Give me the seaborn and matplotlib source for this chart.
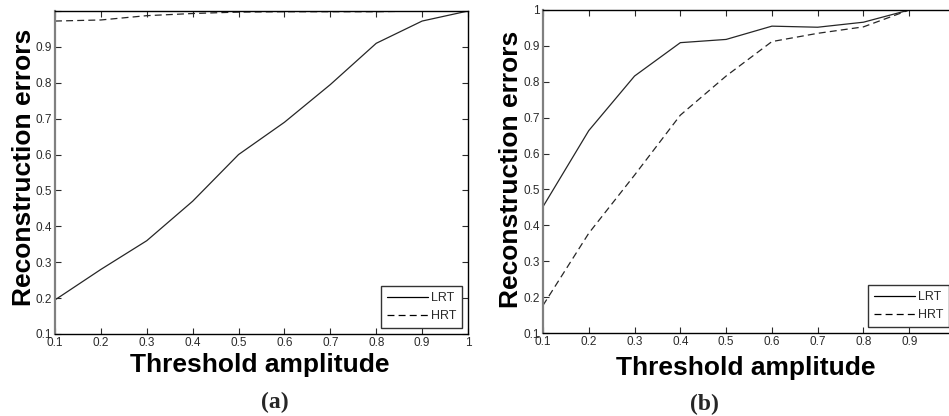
import matplotlib
matplotlib.use("Agg")
import matplotlib.pyplot as plt
import numpy as np
import pandas as pd
import seaborn as sns

# Threshold amplitudes (x axis)
amplitude = [0.1, 0.2, 0.3, 0.4, 0.5, 0.6, 0.7, 0.8, 0.9, 1.0]

# Panel (a): reconstruction errors
lrt_a = [0.195, 0.28, 0.36, 0.47, 0.60, 0.69, 0.795, 0.91, 0.972, 1.0]
hrt_a = [0.972, 0.975, 0.987, 0.993, 0.997, 0.998, 0.998, 0.998, 1.0, 1.0]

# Panel (b): reconstruction errors
lrt_b = [0.452, 0.664, 0.816, 0.909, 0.918, 0.955, 0.952, 0.966, 1.0, 1.0]
hrt_b = [0.177, 0.378, 0.54, 0.707, 0.816, 0.912, 0.935, 0.953, 1.0, 1.0]

methods = ["LRT", "HRT"]
x_ticks = [0.1, 0.2, 0.3, 0.4, 0.5, 0.6, 0.7, 0.8, 0.9, 1.0]
x_tick_labels_a = ["0.1", "0.2", "0.3", "0.4", "0.5", "0.6", "0.7", "0.8", "0.9", "1"]
x_tick_labels_b = ["0.1", "0.2", "0.3", "0.4", "0.5", "0.6", "0.7", "0.8", "0.9", ""]
y_ticks = [0.1, 0.2, 0.3, 0.4, 0.5, 0.6, 0.7, 0.8, 0.9, 1.0]
y_tick_labels_a = ["0.1", "0.2", "0.3", "0.4", "0.5", "0.6", "0.7", "0.8", "0.9", ""]
y_tick_labels_b = ["0.1", "0.2", "0.3", "0.4", "0.5", "0.6", "0.7", "0.8", "0.9", "1"]

sns.set_theme(style="ticks")
plt.rcParams["font.family"] = ["Liberation Sans", "DejaVu Sans"]
plt.rcParams["lines.scale_dashes"] = False

W, H = 949, 416
fig = plt.figure(figsize=(W / 100, H / 100), dpi=100)
fig.patch.set_facecolor("white")


def make_frame(lrt, hrt):
    return pd.DataFrame({
        "amp": amplitude * 2,
        "err": list(lrt) + list(hrt),
        "method": ["LRT"] * len(lrt) + ["HRT"] * len(hrt),
    })


def draw_panel(rect, df, xtl, ytl, xlab_pos, ylab_pos, caption, cap_pos):
    l, r, t, b = rect
    ax = fig.add_axes([l / W, (H - b) / H, (r - l) / W, (b - t) / H])
    sns.lineplot(data=df, x="amp", y="err", style="method", style_order=methods,
                 dashes={"LRT": "", "HRT": (5, 3)}, color="#262626",
                 linewidth=0.9, ax=ax, legend=True)
    ax.set_xlim(0.1, 1.0)
    ax.set_ylim(0.1, 1.0)
    ax.set_xticks(x_ticks)
    ax.set_xticklabels(xtl)
    ax.set_yticks(y_ticks)
    ax.set_yticklabels(ytl)
    ax.tick_params(direction="in", top=True, right=True, length=4, width=0.8,
                   labelsize=8.5, pad=2.5, colors="#2a2a2a")
    for name, sp in ax.spines.items():
        sp.set_visible(True)
        sp.set_color("black")
        sp.set_linewidth(1.0)
    ax.spines["left"].set_color("#808080")
    ax.spines["left"].set_linewidth(1.6)
    ax.set_facecolor("white")

    ax.set_xlabel("Threshold amplitude", fontsize=19, fontweight="bold", color="black")
    ax.xaxis.label.set_verticalalignment("baseline")
    ax.xaxis.set_label_coords(*xlab_pos)
    ax.set_ylabel("Reconstruction errors", fontsize=19, fontweight="bold", color="black")
    ax.yaxis.label.set_verticalalignment("baseline")
    ax.yaxis.set_label_coords(*ylab_pos)

    old = ax.get_legend()
    handles = old.legend_handles
    labels = [tx.get_text() for tx in old.get_texts()]
    old.remove()
    leg = ax.legend(handles, labels, loc="lower right", fontsize=9,
                    handlelength=3.3, handletextpad=0.2, borderpad=0.45,
                    labelspacing=0.5, borderaxespad=0.5, fancybox=False,
                    framealpha=1, edgecolor="#333333")
    leg.get_frame().set_linewidth(1.0)
    for ln in leg.get_lines():
        ln.set_color("black")
        ln.set_linewidth(0.9)
    for tx in leg.get_texts():
        tx.set_color("#2a2a2a")

    fig.text(cap_pos[0] / W, 1 - cap_pos[1] / H, caption, ha="center", va="center",
             fontsize=17, fontweight="bold", family=["Liberation Serif", "DejaVu Serif"])
    return ax


draw_panel((55, 468, 11, 334), make_frame(lrt_a, hrt_a), x_tick_labels_a, y_tick_labels_a,
           (0.496, -0.1176), (-0.058, 0.517), "(a)", (275, 402))
draw_panel((543, 955, 10, 333), make_frame(lrt_b, hrt_b), x_tick_labels_b, y_tick_labels_b,
           (0.493, -0.130), (-0.0605, 0.506), "(b)", (704, 404))

fig.savefig("out.png", dpi=100, facecolor="white")
